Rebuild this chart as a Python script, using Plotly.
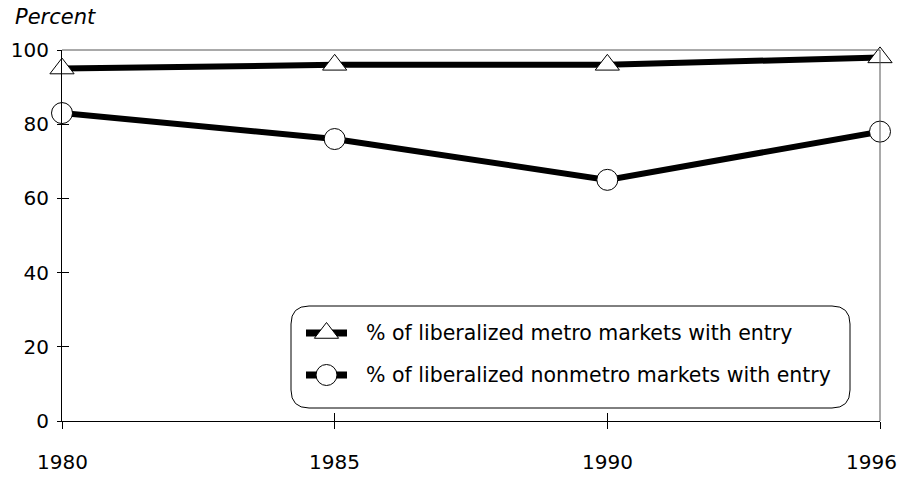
import plotly.graph_objects as go

# Survey years and shares of liberalized markets that saw entry
years = ["1980", "1985", "1990", "1996"]
metro_pct = [95, 96, 96, 98]
nonmetro_pct = [83, 76, 65, 78]
series_names = [
    "% of liberalized metro markets with entry",
    "% of liberalized nonmetro markets with entry",
]
y_ticks = [0, 20, 40, 60, 80, 100]

FONT = "DejaVu Sans"
BLACK = "#000000"

# plot area in pixels (left, right, top, bottom)
PL, PR, PT, PB = 62, 880, 50, 421
W, H = 901, 477

fig = go.Figure()

marker_styles = [
    dict(symbol="triangle-up", size=21, color="white", line=dict(color=BLACK, width=1)),
    dict(symbol="circle", size=21, color="white", line=dict(color=BLACK, width=1)),
]

for name, vals, mk in zip(series_names, [metro_pct, nonmetro_pct], marker_styles):
    fig.add_trace(go.Scatter(
        x=years, y=vals, name=name, mode="lines+markers",
        line=dict(color=BLACK, width=6), marker=mk,
        cliponaxis=False, showlegend=False,
    ))

# empty trace that brings the outward-tick overlay axes into being
fig.add_trace(go.Scatter(x=[], y=[], xaxis="x2", yaxis="y2", showlegend=False))

# key entries, drawn on a pixel-scaled helper axis pair
key_rows = [333, 375]
key_x0, key_x1, key_mid, key_text_x = 306, 347, 326.5, 364
for row_y, mk in zip(key_rows, marker_styles):
    fig.add_trace(go.Scatter(
        x=[key_x0, key_x1], y=[row_y, row_y], mode="lines",
        line=dict(color=BLACK, width=7), xaxis="x3", yaxis="y3",
        showlegend=False, hoverinfo="skip",
    ))
    fig.add_trace(go.Scatter(
        x=[key_mid], y=[row_y], mode="markers", marker=mk,
        xaxis="x3", yaxis="y3", showlegend=False, hoverinfo="skip",
        cliponaxis=False,
    ))

annotations = [
    dict(x=key_text_x, y=row_y, xref="x3", yref="y3", text=name,
         showarrow=False, xanchor="left", yanchor="middle",
         font=dict(family=FONT, size=20.5, color=BLACK))
    for row_y, name in zip(key_rows, series_names)
]
annotations.append(dict(
    x=(13 - PL) / (PR - PL), y=(PB - 17) / (PB - PT), xref="paper", yref="paper",
    text="<i>Percent</i>", showarrow=False,
    xanchor="left", yanchor="middle", font=dict(family=FONT, size=21, color=BLACK),
))

# year labels under the category ticks (positioned by category index);
# the last one is nudged left to stay on the page
label_y = (PB - 462) / (PB - PT)
for i, yr in enumerate(years):
    annotations.append(dict(
        x=i, y=label_y, xref="x2", yref="paper", text=yr, showarrow=False,
        xanchor="center", yanchor="middle",
        xshift=-9 if i == len(years) - 1 else 0,
        font=dict(family=FONT, size=20, color=BLACK),
    ))

# rounded key frame
bx0, bx1, by0, by1, r = 291, 850, 306, 408, 18
box_path = (
    f"M {bx0 + r},{by0} L {bx1 - r},{by0} Q {bx1},{by0} {bx1},{by0 + r} "
    f"L {bx1},{by1 - r} Q {bx1},{by1} {bx1 - r},{by1} "
    f"L {bx0 + r},{by1} Q {bx0},{by1} {bx0},{by1 - r} "
    f"L {bx0},{by0 + r} Q {bx0},{by0} {bx0 + r},{by0} Z"
)

shapes = [
    dict(type="path", path=box_path, xref="x3", yref="y3",
         line=dict(color=BLACK, width=1), fillcolor="white", layer="below"),
    # thin top and right frame lines
    dict(type="line", xref="paper", yref="paper", x0=0, x1=1, y0=1, y1=1,
         line=dict(color="#555555", width=1)),
    dict(type="line", xref="paper", yref="paper", x0=1, x1=1, y0=0, y1=1,
         line=dict(color="#555555", width=1)),
]

fig.update_layout(
    width=W, height=H,
    margin=dict(l=PL, r=W - PR, t=PT, b=H - PB, autoexpand=False),
    paper_bgcolor="white", plot_bgcolor="white",
    font=dict(family=FONT, size=20, color=BLACK),
    showlegend=False,
    annotations=annotations,
    shapes=shapes,
    xaxis=dict(
        type="category", categoryorder="array", categoryarray=years,
        range=[0, 3], showgrid=False, zeroline=False, automargin=False,
        showline=True, linecolor=BLACK, linewidth=1,
        ticks="inside", ticklen=8, tickcolor=BLACK, tickwidth=1,
        showticklabels=False,
    ),
    yaxis=dict(
        range=[0, 100], tickvals=y_ticks, showgrid=False, zeroline=False,
        automargin=False,
        showline=True, linecolor=BLACK, linewidth=1,
        ticks="inside", ticklen=7, tickcolor=BLACK, tickwidth=1,
        ticklabelstandoff=8, tickfont=dict(family=FONT, size=20),
    ),
    xaxis2=dict(
        overlaying="x", anchor="y2", side="bottom", range=[0, 3],
        tickvals=[0, 1, 2, 3], showticklabels=False, showgrid=False,
        zeroline=False, showline=False, automargin=False,
        ticks="outside", ticklen=7, tickcolor=BLACK, tickwidth=1,
    ),
    yaxis2=dict(
        overlaying="y", anchor="x2", side="left", range=[0, 100],
        tickvals=y_ticks, showticklabels=False, showgrid=False,
        zeroline=False, showline=False, automargin=False,
        ticks="outside", ticklen=4, tickcolor=BLACK, tickwidth=1,
    ),
    xaxis3=dict(overlaying="x", anchor="y3", range=[PL, PR], visible=False),
    yaxis3=dict(overlaying="y", anchor="x3", range=[PB, PT], visible=False),
)

fig.write_html("out.html")
